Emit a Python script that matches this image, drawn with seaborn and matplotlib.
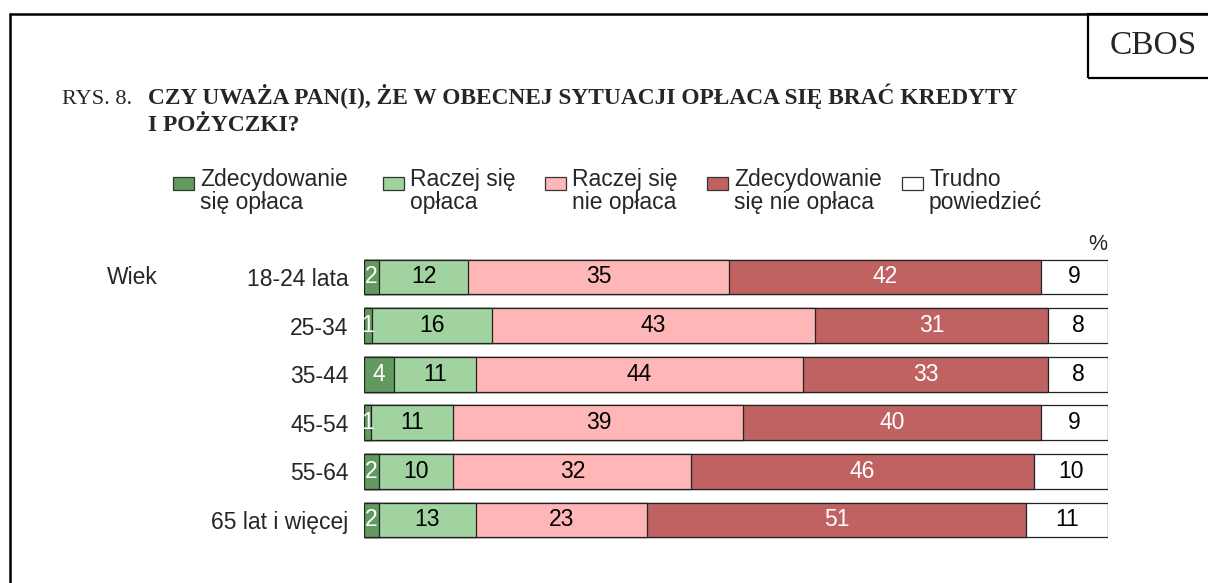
import numpy as np
import pandas as pd
import seaborn as sns
import matplotlib.pyplot as plt
from matplotlib.patches import Rectangle
from matplotlib.lines import Line2D

# dane z rysunku
groups = ['18-24 lata', '25-34', '35-44', '45-54', '55-64', '65 lat i więcej']
answers = ['Zdecydowanie\nsię opłaca', 'Raczej się\nopłaca', 'Raczej się\nnie opłaca',
           'Zdecydowanie\nsię nie opłaca', 'Trudno\npowiedzieć']
zdec_tak = [2, 1, 4, 1, 2, 2]
raczej_tak = [12, 16, 11, 11, 10, 13]
raczej_nie = [35, 43, 44, 39, 32, 23]
zdec_nie = [42, 31, 33, 40, 46, 51]
trudno = [9, 8, 8, 9, 10, 11]

colors = ['#62995f', '#a1d3a0', '#ffb6b6', '#c06262', '#ffffff']
text_colors = ['white', 'black', 'black', 'white', 'black']

sns.set_style('white')
plt.rcParams['font.family'] = ['Liberation Sans', 'DejaVu Sans']

FS = 16.5

vals = np.array([zdec_tak, raczej_tak, raczej_nie, zdec_nie, trudno], dtype=float).T
shares = vals / vals.sum(axis=1, keepdims=True) * 100
cum = shares.cumsum(axis=1)

df = pd.DataFrame(cum, columns=answers)
df['grupa'] = groups

fig = plt.figure(figsize=(12.08, 5.83), dpi=100)
W, H = 1208, 583
ax = fig.add_axes([364 / W, 1 - (252.7 + 291.6) / H, 744 / W, 291.6 / H])

# stos: rysujemy od najdluzszego
for i in range(len(answers) - 1, -1, -1):
    sns.barplot(data=df, x=answers[i], y='grupa', orient='h', color=colors[i],
                edgecolor='#222222', linewidth=0.9, width=0.72, saturation=1, ax=ax)

for r in range(len(groups)):
    for i in range(len(answers)):
        center = cum[r, i] - shares[r, i] / 2
        ax.text(center, r, f'{int(vals[r, i])}', ha='center', va='center',
                fontsize=FS, color=text_colors[i])

ax.set_xlim(0, 100)
ax.set_ylim(5.5, -0.5)
ax.set_xlabel('')
ax.set_ylabel('')
ax.set_xticks([])
ax.tick_params(axis='y', length=0, pad=11, labelsize=FS)
sns.despine(ax=ax, left=True, bottom=True)

fig.text(107 / W, 1 - 277 / H, 'Wiek', fontsize=FS, va='center', ha='left')
fig.text(1107 / W, 1 - 245 / H, '%', fontsize=FS - 1, va='center', ha='right')

# legenda recznie
patch_x = [173, 383, 545, 707, 902]
for i, lab in enumerate(answers):
    fig.add_artist(Rectangle((patch_x[i] / W, 1 - 190 / H), 21 / W, 13 / H,
                             transform=fig.transFigure, facecolor=colors[i],
                             edgecolor='#333333', linewidth=0.9))
    fig.text((patch_x[i] + 27) / W, 1 - 168 / H, lab, fontsize=FS, va='top', ha='left',
             linespacing=1.0)

# tytul
fig.text(62 / W, 1 - 104 / H, 'RYS. 8.', family='Liberation Serif', fontsize=16,
         va='baseline')
fig.text(148 / W, 1 - 104 / H, 'CZY UWAŻA PAN(I), ŻE W OBECNEJ SYTUACJI OPŁACA SIĘ BRAĆ KREDYTY',
         family='Liberation Serif', fontsize=16.8, fontweight='bold', va='baseline')
fig.text(148 / W, 1 - 131 / H, 'I POŻYCZKI?', family='Liberation Serif', fontsize=16.8,
         fontweight='bold', va='baseline')

# ramka
fig.add_artist(Line2D([10 / W, 1], [1 - 14 / H, 1 - 14 / H], transform=fig.transFigure,
                      color='black', linewidth=1.8))
fig.add_artist(Line2D([10 / W, 10 / W], [0, 1 - 14 / H], transform=fig.transFigure,
                      color='black', linewidth=1.8))
fig.add_artist(Rectangle((1088 / W, 1 - 78 / H), 130 / W, 64 / H, transform=fig.transFigure,
                         facecolor='none', edgecolor='black', linewidth=1.6))
fig.text(1153 / W, 1 - 46 / H, 'CBOS', family='Liberation Serif', fontsize=24,
         ha='center', va='center')

fig.savefig('out.png', dpi=100)
